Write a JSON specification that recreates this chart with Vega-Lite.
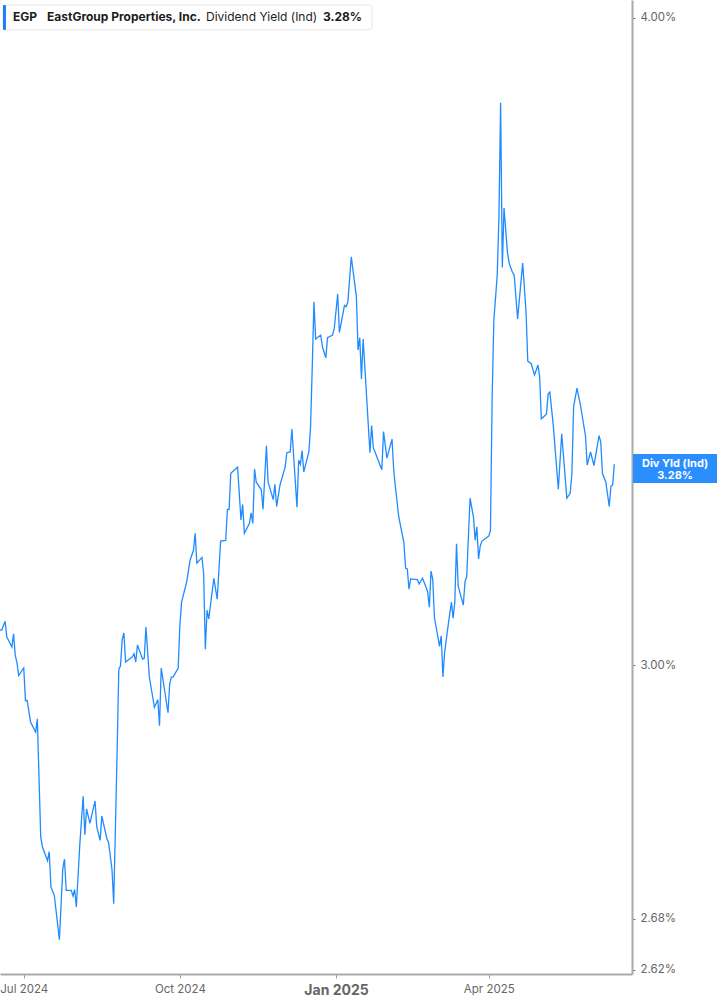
{
  "$schema": "https://vega.github.io/schema/vega-lite/v6.json",
  "width": 632,
  "height": 974,
  "autosize": "none",
  "padding": {"left": 0, "top": 0, "right": 85, "bottom": 31},
  "background": "white",
  "config": {
    "font": "Inter",
    "view": {"stroke": null}
  },
  "layer": [
    {
      "data": {
        "values": [
          {"date": "2024-06-17", "yield": 3.047}, {"date": "2024-06-18", "yield": 3.047}, {"date": "2024-06-20", "yield": 3.059},
          {"date": "2024-06-21", "yield": 3.038}, {"date": "2024-06-24", "yield": 3.024}, {"date": "2024-06-25", "yield": 3.042},
          {"date": "2024-06-26", "yield": 3.013}, {"date": "2024-06-27", "yield": 3.003}, {"date": "2024-06-28", "yield": 2.986},
          {"date": "2024-07-01", "yield": 2.996}, {"date": "2024-07-02", "yield": 2.953}, {"date": "2024-07-03", "yield": 2.953},
          {"date": "2024-07-05", "yield": 2.925}, {"date": "2024-07-08", "yield": 2.912}, {"date": "2024-07-09", "yield": 2.929},
          {"date": "2024-07-11", "yield": 2.779}, {"date": "2024-07-12", "yield": 2.767}, {"date": "2024-07-15", "yield": 2.750},
          {"date": "2024-07-16", "yield": 2.761}, {"date": "2024-07-17", "yield": 2.718}, {"date": "2024-07-19", "yield": 2.708},
          {"date": "2024-07-22", "yield": 2.655}, {"date": "2024-07-24", "yield": 2.740}, {"date": "2024-07-25", "yield": 2.752},
          {"date": "2024-07-26", "yield": 2.714}, {"date": "2024-07-29", "yield": 2.714}, {"date": "2024-07-30", "yield": 2.707},
          {"date": "2024-07-31", "yield": 2.715}, {"date": "2024-08-01", "yield": 2.694}, {"date": "2024-08-03", "yield": 2.769},
          {"date": "2024-08-05", "yield": 2.830}, {"date": "2024-08-06", "yield": 2.782}, {"date": "2024-08-07", "yield": 2.814},
          {"date": "2024-08-09", "yield": 2.796}, {"date": "2024-08-12", "yield": 2.824}, {"date": "2024-08-13", "yield": 2.792},
          {"date": "2024-08-15", "yield": 2.775}, {"date": "2024-08-16", "yield": 2.805}, {"date": "2024-08-19", "yield": 2.777},
          {"date": "2024-08-20", "yield": 2.772}, {"date": "2024-08-22", "yield": 2.739}, {"date": "2024-08-23", "yield": 2.698},
          {"date": "2024-08-25", "yield": 2.885}, {"date": "2024-08-26", "yield": 2.994}, {"date": "2024-08-27", "yield": 2.999},
          {"date": "2024-08-28", "yield": 3.034}, {"date": "2024-08-29", "yield": 3.043}, {"date": "2024-08-30", "yield": 3.004},
          {"date": "2024-09-03", "yield": 3.011}, {"date": "2024-09-04", "yield": 3.015}, {"date": "2024-09-05", "yield": 3.004},
          {"date": "2024-09-06", "yield": 3.027}, {"date": "2024-09-09", "yield": 3.008}, {"date": "2024-09-10", "yield": 3.009},
          {"date": "2024-09-11", "yield": 3.051}, {"date": "2024-09-13", "yield": 2.984}, {"date": "2024-09-16", "yield": 2.944},
          {"date": "2024-09-18", "yield": 2.954}, {"date": "2024-09-19", "yield": 2.920}, {"date": "2024-09-20", "yield": 2.996},
          {"date": "2024-09-24", "yield": 2.937}, {"date": "2024-09-25", "yield": 2.975}, {"date": "2024-09-26", "yield": 2.984},
          {"date": "2024-09-27", "yield": 2.984}, {"date": "2024-09-30", "yield": 2.996}, {"date": "2024-10-01", "yield": 3.054},
          {"date": "2024-10-02", "yield": 3.085}, {"date": "2024-10-05", "yield": 3.113}, {"date": "2024-10-07", "yield": 3.143},
          {"date": "2024-10-09", "yield": 3.157}, {"date": "2024-10-10", "yield": 3.181}, {"date": "2024-10-11", "yield": 3.139},
          {"date": "2024-10-14", "yield": 3.147}, {"date": "2024-10-15", "yield": 3.125}, {"date": "2024-10-16", "yield": 3.021},
          {"date": "2024-10-17", "yield": 3.074}, {"date": "2024-10-18", "yield": 3.062}, {"date": "2024-10-21", "yield": 3.118},
          {"date": "2024-10-23", "yield": 3.089}, {"date": "2024-10-25", "yield": 3.170}, {"date": "2024-10-28", "yield": 3.171},
          {"date": "2024-10-29", "yield": 3.215}, {"date": "2024-10-30", "yield": 3.215}, {"date": "2024-10-31", "yield": 3.267},
          {"date": "2024-11-04", "yield": 3.276}, {"date": "2024-11-06", "yield": 3.200}, {"date": "2024-11-07", "yield": 3.222},
          {"date": "2024-11-08", "yield": 3.181}, {"date": "2024-11-11", "yield": 3.195}, {"date": "2024-11-12", "yield": 3.210},
          {"date": "2024-11-13", "yield": 3.195}, {"date": "2024-11-14", "yield": 3.273}, {"date": "2024-11-15", "yield": 3.254},
          {"date": "2024-11-18", "yield": 3.243}, {"date": "2024-11-19", "yield": 3.215}, {"date": "2024-11-21", "yield": 3.307},
          {"date": "2024-11-22", "yield": 3.254}, {"date": "2024-11-25", "yield": 3.229}, {"date": "2024-11-26", "yield": 3.251},
          {"date": "2024-11-27", "yield": 3.219}, {"date": "2024-11-29", "yield": 3.250}, {"date": "2024-12-02", "yield": 3.276},
          {"date": "2024-12-03", "yield": 3.297}, {"date": "2024-12-05", "yield": 3.298}, {"date": "2024-12-06", "yield": 3.332},
          {"date": "2024-12-09", "yield": 3.218}, {"date": "2024-12-10", "yield": 3.286}, {"date": "2024-12-11", "yield": 3.280},
          {"date": "2024-12-12", "yield": 3.300}, {"date": "2024-12-13", "yield": 3.269}, {"date": "2024-12-16", "yield": 3.298},
          {"date": "2024-12-17", "yield": 3.335}, {"date": "2024-12-18", "yield": 3.425}, {"date": "2024-12-19", "yield": 3.526},
          {"date": "2024-12-20", "yield": 3.468}, {"date": "2024-12-23", "yield": 3.474}, {"date": "2024-12-24", "yield": 3.456},
          {"date": "2024-12-26", "yield": 3.439}, {"date": "2024-12-27", "yield": 3.470}, {"date": "2024-12-30", "yield": 3.474},
          {"date": "2024-12-31", "yield": 3.485}, {"date": "2025-01-02", "yield": 3.538}, {"date": "2025-01-03", "yield": 3.478},
          {"date": "2025-01-06", "yield": 3.520}, {"date": "2025-01-07", "yield": 3.518}, {"date": "2025-01-08", "yield": 3.526},
          {"date": "2025-01-10", "yield": 3.597}, {"date": "2025-01-13", "yield": 3.534}, {"date": "2025-01-14", "yield": 3.451},
          {"date": "2025-01-15", "yield": 3.470}, {"date": "2025-01-16", "yield": 3.407}, {"date": "2025-01-17", "yield": 3.468},
          {"date": "2025-01-21", "yield": 3.297}, {"date": "2025-01-22", "yield": 3.337}, {"date": "2025-01-23", "yield": 3.304},
          {"date": "2025-01-24", "yield": 3.298}, {"date": "2025-01-28", "yield": 3.272}, {"date": "2025-01-29", "yield": 3.328},
          {"date": "2025-01-31", "yield": 3.289}, {"date": "2025-02-03", "yield": 3.317}, {"date": "2025-02-04", "yield": 3.272},
          {"date": "2025-02-05", "yield": 3.247}, {"date": "2025-02-07", "yield": 3.204}, {"date": "2025-02-10", "yield": 3.168},
          {"date": "2025-02-11", "yield": 3.132}, {"date": "2025-02-12", "yield": 3.131}, {"date": "2025-02-13", "yield": 3.103},
          {"date": "2025-02-14", "yield": 3.117}, {"date": "2025-02-18", "yield": 3.116}, {"date": "2025-02-19", "yield": 3.110},
          {"date": "2025-02-21", "yield": 3.118}, {"date": "2025-02-23", "yield": 3.106}, {"date": "2025-02-24", "yield": 3.099},
          {"date": "2025-02-25", "yield": 3.078}, {"date": "2025-02-26", "yield": 3.128}, {"date": "2025-02-27", "yield": 3.116},
          {"date": "2025-02-28", "yield": 3.064}, {"date": "2025-03-03", "yield": 3.025}, {"date": "2025-03-04", "yield": 3.039},
          {"date": "2025-03-05", "yield": 2.984}, {"date": "2025-03-06", "yield": 3.017}, {"date": "2025-03-08", "yield": 3.052},
          {"date": "2025-03-10", "yield": 3.085}, {"date": "2025-03-11", "yield": 3.063}, {"date": "2025-03-12", "yield": 3.085},
          {"date": "2025-03-13", "yield": 3.166}, {"date": "2025-03-14", "yield": 3.107}, {"date": "2025-03-17", "yield": 3.081},
          {"date": "2025-03-18", "yield": 3.113}, {"date": "2025-03-19", "yield": 3.120}, {"date": "2025-03-21", "yield": 3.231},
          {"date": "2025-03-23", "yield": 3.204}, {"date": "2025-03-24", "yield": 3.171}, {"date": "2025-03-25", "yield": 3.190},
          {"date": "2025-03-26", "yield": 3.145}, {"date": "2025-03-27", "yield": 3.163}, {"date": "2025-03-28", "yield": 3.170},
          {"date": "2025-04-01", "yield": 3.177}, {"date": "2025-04-02", "yield": 3.185}, {"date": "2025-04-03", "yield": 3.378},
          {"date": "2025-04-04", "yield": 3.496}, {"date": "2025-04-06", "yield": 3.568}, {"date": "2025-04-07", "yield": 3.661},
          {"date": "2025-04-08", "yield": 3.852}, {"date": "2025-04-09", "yield": 3.580}, {"date": "2025-04-10", "yield": 3.676},
          {"date": "2025-04-12", "yield": 3.605}, {"date": "2025-04-13", "yield": 3.587}, {"date": "2025-04-15", "yield": 3.572},
          {"date": "2025-04-16", "yield": 3.568}, {"date": "2025-04-18", "yield": 3.499}, {"date": "2025-04-21", "yield": 3.587},
          {"date": "2025-04-23", "yield": 3.509}, {"date": "2025-04-24", "yield": 3.434}, {"date": "2025-04-26", "yield": 3.430},
          {"date": "2025-04-28", "yield": 3.413}, {"date": "2025-04-30", "yield": 3.428}, {"date": "2025-05-01", "yield": 3.410},
          {"date": "2025-05-02", "yield": 3.347}, {"date": "2025-05-05", "yield": 3.354}, {"date": "2025-05-06", "yield": 3.384},
          {"date": "2025-05-07", "yield": 3.387}, {"date": "2025-05-09", "yield": 3.338}, {"date": "2025-05-12", "yield": 3.244},
          {"date": "2025-05-14", "yield": 3.325}, {"date": "2025-05-17", "yield": 3.231}, {"date": "2025-05-19", "yield": 3.238},
          {"date": "2025-05-20", "yield": 3.266}, {"date": "2025-05-21", "yield": 3.365}, {"date": "2025-05-23", "yield": 3.393},
          {"date": "2025-05-25", "yield": 3.368}, {"date": "2025-05-28", "yield": 3.322}, {"date": "2025-05-29", "yield": 3.279},
          {"date": "2025-05-31", "yield": 3.298}, {"date": "2025-06-02", "yield": 3.278}, {"date": "2025-06-05", "yield": 3.322},
          {"date": "2025-06-06", "yield": 3.313}, {"date": "2025-06-07", "yield": 3.267}, {"date": "2025-06-09", "yield": 3.254},
          {"date": "2025-06-11", "yield": 3.219}, {"date": "2025-06-12", "yield": 3.248}, {"date": "2025-06-13", "yield": 3.250},
          {"date": "2025-06-14", "yield": 3.280}
        ]
      },
      "mark": {"type": "line", "color": "#1f8bff", "strokeWidth": 1.3, "strokeJoin": "miter"},
      "encoding": {
        "x": {
          "field": "date",
          "type": "temporal",
          "title": null,
          "scale": {
            "type": "utc",
            "domain": [
              {"year": 2024, "month": 6, "date": 17, "utc": true},
              {"year": 2025, "month": 6, "date": 24, "hours": 10, "utc": true}
            ]
          },
          "axis": {
            "orient": "bottom",
            "title": null,
            "values": [
              {"year": 2024, "month": 7, "date": 1, "utc": true},
              {"year": 2024, "month": 10, "date": 1, "utc": true},
              {"year": 2025, "month": 1, "date": 1, "utc": true},
              {"year": 2025, "month": 4, "date": 1, "utc": true}
            ],
            "format": "%b %Y",
            "grid": false,
            "domainColor": "#aaaaaa",
            "domainWidth": 2,
            "tickColor": "#999999",
            "tickSize": 4,
            "labelColor": "#666666",
            "labelPadding": 5,
            "labelFontSize": {"condition": {"test": "utcmonth(datum.value) === 0", "value": 14}, "value": 11.5},
            "labelFontWeight": {"condition": {"test": "utcmonth(datum.value) === 0", "value": "bold"}, "value": "normal"}
          }
        },
        "y": {
          "field": "yield",
          "type": "quantitative",
          "title": null,
          "scale": {"type": "log", "domain": [2.6149, 4.0321], "nice": false},
          "axis": {
            "orient": "right",
            "title": null,
            "values": [2.62, 2.68, 3.0, 4.0],
            "labelExpr": "format(datum.value, '.2f') + '%'",
            "grid": false,
            "domainColor": "#aaaaaa",
            "domainWidth": 2,
            "tickColor": "#777777",
            "tickSize": 3,
            "labelColor": "#666666",
            "labelFontSize": 11.5,
            "labelPadding": 5
          }
        }
      }
    },
    {
      "data": {"values": [{}]},
      "mark": {"type": "rect", "fill": "white", "stroke": "#e6e6e6", "strokeWidth": 1, "cornerRadius": 3},
      "encoding": {
        "x": {"datum": {"year": 2024, "month": 6, "date": 18, "hours": 18, "utc": true}, "type": "temporal", "title": null},
        "x2": {"datum": {"year": 2025, "month": 1, "date": 22, "hours": 5, "utc": true}},
        "y": {"datum": 4.023, "type": "quantitative", "title": null},
        "y2": {"datum": 3.979}
      }
    },
    {
      "data": {"values": [{}]},
      "mark": {"type": "rect", "fill": "#1a7cff"},
      "encoding": {
        "x": {"datum": {"year": 2024, "month": 6, "date": 18, "hours": 18, "utc": true}, "type": "temporal", "title": null},
        "x2": {"datum": {"year": 2024, "month": 6, "date": 20, "hours": 12, "utc": true}},
        "y": {"datum": 4.023, "type": "quantitative", "title": null},
        "y2": {"datum": 3.979}
      }
    },
    {
      "data": {"values": [{}]},
      "mark": {"type": "text", "text": "EGP", "align": "left", "baseline": "middle", "fontSize": 12, "fontWeight": "bold", "color": "#1c1c1c"},
      "encoding": {
        "x": {"datum": {"year": 2024, "month": 6, "date": 24, "hours": 16, "utc": true}, "type": "temporal", "title": null},
        "y": {"datum": 4.001, "type": "quantitative", "title": null}
      }
    },
    {
      "data": {"values": [{}]},
      "mark": {"type": "text", "text": "EastGroup Properties, Inc.", "align": "left", "baseline": "middle", "fontSize": 12, "fontWeight": "bold", "color": "#1c1c1c"},
      "encoding": {
        "x": {"datum": {"year": 2024, "month": 7, "date": 14, "hours": 17, "utc": true}, "type": "temporal", "title": null},
        "y": {"datum": 4.001, "type": "quantitative", "title": null}
      }
    },
    {
      "data": {"values": [{}]},
      "mark": {"type": "text", "text": "Dividend Yield (Ind)", "align": "left", "baseline": "middle", "fontSize": 12, "fontWeight": "normal", "color": "#1c1c1c"},
      "encoding": {
        "x": {"datum": {"year": 2024, "month": 10, "date": 16, "hours": 10, "utc": true}, "type": "temporal", "title": null},
        "y": {"datum": 4.001, "type": "quantitative", "title": null}
      }
    },
    {
      "data": {"values": [{}]},
      "mark": {"type": "text", "text": "3.28%", "align": "left", "baseline": "middle", "fontSize": 12, "fontWeight": "bold", "color": "#1c1c1c"},
      "encoding": {
        "x": {"datum": {"year": 2024, "month": 12, "date": 24, "hours": 8, "utc": true}, "type": "temporal", "title": null},
        "y": {"datum": 4.001, "type": "quantitative", "title": null}
      }
    },
    {
      "data": {"values": [{}]},
      "mark": {"type": "rect", "fill": "#2b8eff"},
      "encoding": {
        "x": {"datum": {"year": 2025, "month": 6, "date": 25, "utc": true}, "type": "temporal", "title": null},
        "x2": {"datum": {"year": 2025, "month": 8, "date": 14, "utc": true}},
        "y": {"datum": 3.295, "type": "quantitative", "title": null},
        "y2": {"datum": 3.253}
      }
    },
    {
      "data": {"values": [{}]},
      "mark": {"type": "text", "text": ["Div Yld (Ind)", "3.28%"], "align": "center", "baseline": "middle", "lineHeight": 12.5, "fontSize": 11, "fontWeight": "bold", "color": "white"},
      "encoding": {
        "x": {"datum": {"year": 2025, "month": 7, "date": 19, "hours": 19, "utc": true}, "type": "temporal", "title": null},
        "y": {"datum": 3.281, "type": "quantitative", "title": null}
      }
    }
  ]
}
